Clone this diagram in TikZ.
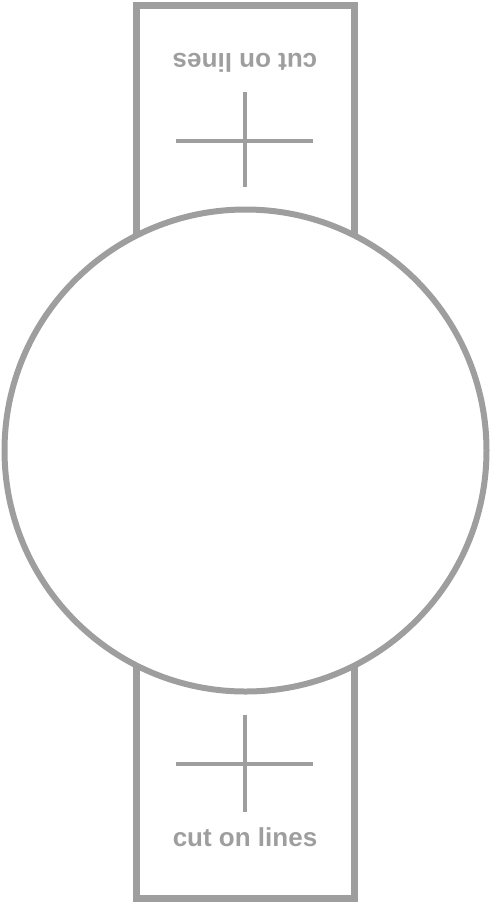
\documentclass[tikz,border=0pt]{standalone}
\usepackage{fontspec}
\setmainfont{Liberation Sans}
\definecolor{linegray}{HTML}{9E9E9E}
\begin{document}
\begin{tikzpicture}[x=1pt,y=-1pt,
  outline/.style={draw=linegray,line width=7pt},
  ring/.style={draw=linegray,line width=6pt,fill=white},
  cutmark/.style={draw=linegray,line width=4pt},
  cuttext/.style={text=linegray,font=\fontsize{26}{30}\selectfont\bfseries,inner sep=0pt}]
\useasboundingbox (0,0) rectangle (491,903);
\draw[outline] (136,5) rectangle (354,898);
\node[ring,circle,minimum size=482pt,inner sep=0pt] (face) at (245.5,450.5) {};
% top cross
\coordinate (t1) at (245,92); \coordinate (t2) at (245,187);
\coordinate (t3) at (176,140.5); \coordinate (t4) at (313,140.5);
\draw[cutmark] (t1) -- (t2);
\draw[cutmark] (t3) -- (t4);
% bottom cross
\coordinate (b1) at (245,715); \coordinate (b2) at (245,812);
\coordinate (b3) at (176,764); \coordinate (b4) at (313,764);
\draw[cutmark] (b1) -- (b2);
\draw[cutmark] (b3) -- (b4);
\node[cuttext,rotate=180] (toplabel) at (245,63) {cut on lines};
\node[cuttext] (botlabel) at (245,837) {cut on lines};
\end{tikzpicture}
\end{document}
